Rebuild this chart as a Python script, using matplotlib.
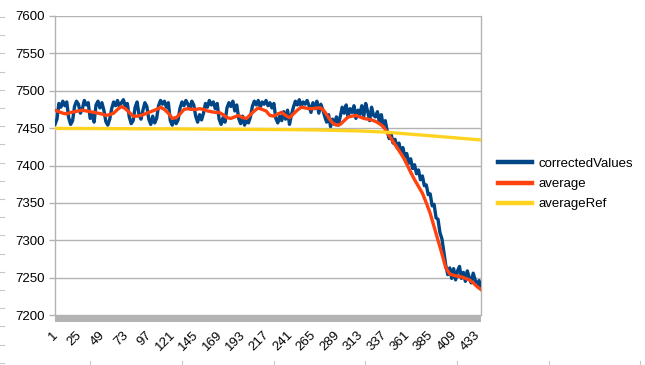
import matplotlib
matplotlib.use("Agg")
import matplotlib.pyplot as plt
from matplotlib.patches import Rectangle
from matplotlib.lines import Line2D
from matplotlib.transforms import ScaledTranslation

plt.rcParams['font.family'] = ['Liberation Sans', 'DejaVu Sans']

# ---------------- data ----------------
blue_cat = list(range(1, 438, 2))
correctedValues = [
    7455, 7462,
    7483, 7478, 7486, 7480, 7485,
    7464, 7455, 7460,
    7479, 7486, 7482, 7470, 7476, 7487, 7481, 7484,
    7463, 7468, 7458,
    7481, 7486, 7477, 7484, 7474,
    7459, 7454, 7462,
    7476, 7485, 7480, 7487, 7478, 7484, 7488, 7479, 7483,
    7465, 7456, 7460,
    7478, 7485, 7468, 7462, 7474, 7484, 7479,
    7462, 7455, 7466, 7457, 7463,
    7480, 7487, 7482, 7486, 7478, 7484,
    7460, 7454, 7463, 7456, 7461,
    7477, 7485, 7480, 7487, 7482, 7476, 7486, 7481,
    7466, 7458, 7468, 7461, 7470,
    7483, 7478, 7487, 7481, 7485, 7476, 7483,
    7462, 7455, 7464, 7458,
    7477, 7484, 7479, 7486, 7473, 7481,
    7463, 7456, 7466, 7454, 7461, 7457, 7465,
    7479, 7486, 7481, 7487, 7478, 7485, 7482, 7487, 7480,
    7484, 7477, 7483,
    7463, 7457, 7466, 7460,
    7472, 7462, 7474, 7455, 7468,
    7478, 7486, 7481, 7488, 7479, 7485, 7482, 7487, 7480,
    7471, 7484, 7476, 7486, 7470, 7482, 7475,
    7466, 7458, 7468, 7452, 7462, 7455, 7465, 7454,
    7466, 7478, 7470, 7481, 7465, 7476, 7471, 7480, 7463, 7474, 7468,
    7480, 7466, 7483, 7472, 7460, 7478, 7467,
    7465, 7472, 7458, 7468, 7452, 7460,
    7446, 7436, 7442, 7430, 7435, 7424, 7430, 7418, 7424, 7412,
    7416, 7403, 7409, 7396, 7401, 7389, 7394, 7381, 7386, 7373,
    7374, 7361, 7362, 7346, 7348, 7330, 7328, 7310, 7302, 7284,
    7266, 7254, 7263, 7249, 7262, 7247, 7259, 7265, 7249, 7257,
    7245, 7259, 7250, 7243, 7256, 7247, 7240, 7246, 7236,
]

avg_cat = list(range(1, 438, 4))
average = [
    7474, 7472, 7470, 7469, 7471, 7472, 7473, 7474, 7473, 7472,
    7471, 7470, 7469, 7467, 7468, 7470, 7475, 7479, 7476, 7471,
    7466, 7466, 7467, 7469, 7471, 7473, 7475, 7478, 7475, 7470,
    7463, 7464, 7469, 7475, 7476, 7475, 7475, 7476, 7475, 7473,
    7472, 7471, 7471, 7468, 7464, 7463, 7465, 7467, 7464, 7463,
    7468, 7473, 7477, 7475, 7473, 7467, 7466, 7469, 7471, 7467,
    7464, 7469, 7474, 7478, 7477, 7476, 7476, 7477, 7477, 7472,
    7464, 7457, 7454, 7455, 7460, 7465, 7466, 7467, 7465, 7463,
    7462, 7461, 7459, 7456, 7452, 7444, 7436, 7428, 7420, 7412,
    7402, 7391, 7381, 7372, 7363, 7350, 7336, 7318, 7300, 7282,
    7263, 7255, 7253, 7252, 7251, 7249, 7247, 7243, 7238, 7234,
]

ref_cat = [1, 25, 49, 73, 97, 121, 145, 169, 193, 217, 241, 265, 289, 313,
           337, 361, 385, 409, 433, 437]
averageRef = [7449.6, 7449.5, 7449.4, 7449.2, 7449.1, 7449.0, 7448.8, 7448.6,
              7448.4, 7448.2, 7448.0, 7447.6, 7447.0, 7446.2, 7444.8, 7442.3,
              7439.8, 7437.2, 7434.6, 7434.2]

x_ticks = [1, 25, 49, 73, 97, 121, 145, 169, 193, 217, 241, 265, 289, 313,
           337, 361, 385, 409, 433]
y_ticks = [7200, 7250, 7300, 7350, 7400, 7450, 7500, 7550, 7600]
series_names = ["correctedValues", "average", "averageRef"]

# ---------------- figure ----------------
W, H = 645, 365
fig = plt.figure(figsize=(W / 100, H / 100), dpi=100)
ax = fig.add_axes([55 / W, 1 - 315 / H, 426 / W, 299 / H])

grid_c = "#b3b3b3"
ax.plot(blue_cat, correctedValues, color="#004586", lw=2.4, solid_joinstyle="round", zorder=3)
ax.plot(avg_cat, average, color="#ff420e", lw=2.4, solid_joinstyle="round", zorder=4)
ax.plot(ref_cat, averageRef, color="#ffd320", lw=2.4, zorder=5)

ax.set_xlim(1, 437)
ax.set_ylim(7200, 7600)
ax.set_yticks(y_ticks)
ax.set_yticklabels([str(v) for v in y_ticks], fontsize=9.5)
ax.set_xticks(x_ticks)
ax.set_xticklabels([str(v) for v in x_ticks], fontsize=9.5, rotation=45,
                   ha="right", va="top", rotation_mode="anchor")
ax.tick_params(axis="x", length=0, pad=10)
ax.tick_params(axis="y", length=4, width=1, color=grid_c, pad=3)
shift = ScaledTranslation(-3 / 100, 0, fig.dpi_scale_trans)
for lab in ax.get_xticklabels():
    lab.set_transform(lab.get_transform() + shift)
ax.grid(axis="y", color=grid_c, lw=1)
ax.set_axisbelow(True)
for s in ["left", "right"]:
    ax.spines[s].set_color(grid_c)
    ax.spines[s].set_linewidth(1)
ax.spines["top"].set_visible(False)
ax.spines["bottom"].set_visible(False)

# grey floor band below the plot area
ax.add_patch(Rectangle((0, -7 / 299), 1, 7 / 299, transform=ax.transAxes,
                       facecolor="#b3b3b3", edgecolor="none", clip_on=False, zorder=6))

# legend
handles = [Line2D([], [], color=c, lw=3.2) for c in ["#004586", "#ff420e", "#ffd320"]]
fig.legend(handles, series_names, loc="center left",
           bbox_to_anchor=(498 / W, 1 - 184 / H), bbox_transform=fig.transFigure,
           frameon=False, fontsize=9.5, handlelength=2.6, handletextpad=0.45,
           labelspacing=0.6, borderpad=0, borderaxespad=0)

# faint sheet marks at the picture edges
for k in range(20):
    yy = 1 - (17 + 18.2 * k) / H
    fig.add_artist(Line2D([0, 4 / W], [yy, yy], color="#c8c8c8", lw=0.8,
                          transform=fig.transFigure))
for xx in [90, 182, 274, 365, 457, 549, 640]:
    fig.add_artist(Line2D([xx / W, xx / W], [0, 4 / H], color="#c8c8c8", lw=0.8,
                          transform=fig.transFigure))

fig.savefig("out.png", dpi=100)
